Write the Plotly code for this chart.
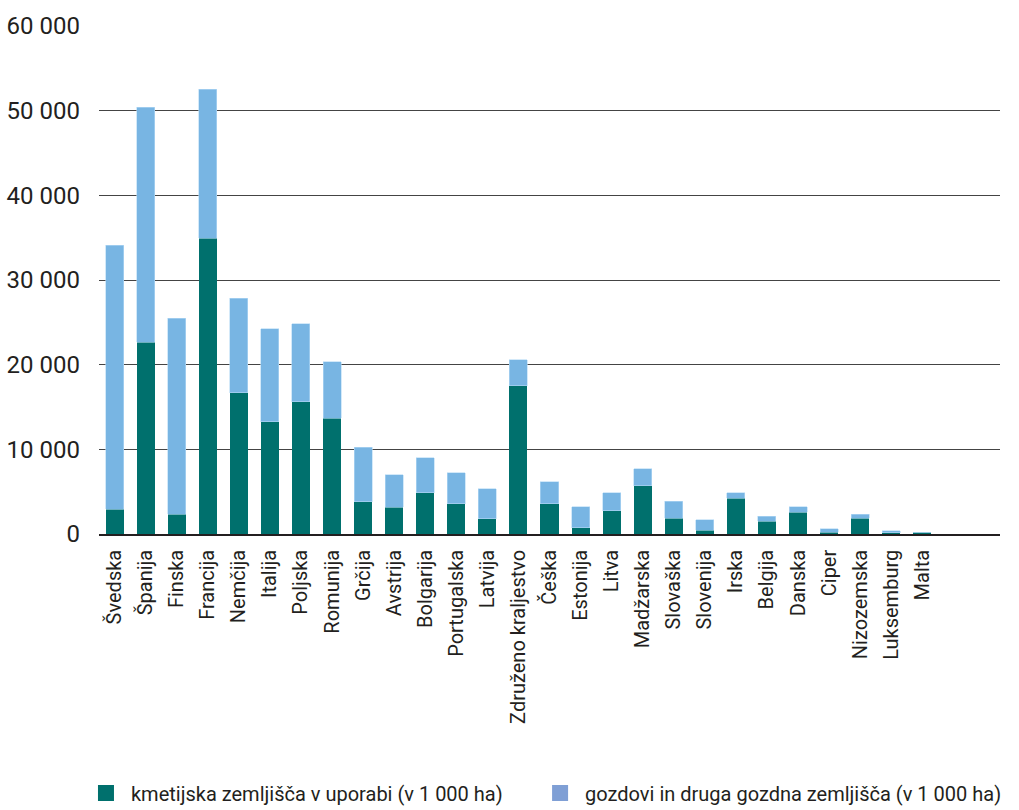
import plotly.graph_objects as go

# Površine po državah članicah (v 1 000 ha)
drzave = [
    "Švedska", "Španija", "Finska", "Francija", "Nemčija", "Italija", "Poljska",
    "Romunija", "Grčija", "Avstrija", "Bolgarija", "Portugalska", "Latvija",
    "Združeno kraljestvo", "Češka", "Estonija", "Litva", "Madžarska", "Slovaška",
    "Slovenija", "Irska", "Belgija", "Danska", "Ciper", "Nizozemska",
    "Luksemburg", "Malta",
]
kmetijska = [
    2950, 22650, 2360, 34940, 16670, 13240, 15600,
    13670, 3820, 3150, 4880, 3580, 1810,
    17530, 3580, 750, 2720, 5720, 1870,
    430, 4230, 1480, 2580, 180, 1870,
    130, 150,
]
gozdovi = [
    31130, 27740, 23130, 17580, 11180, 10990, 9220,
    6660, 6420, 3860, 4100, 3670, 3510,
    3040, 2600, 2440, 2160, 2000, 1970,
    1250, 670, 620, 630, 430, 470,
    280, 0,
]
ime_kmetijska = "kmetijska zemljišča v uporabi (v 1 000 ha)"
ime_gozdovi = "gozdovi in druga gozdna zemljišča (v 1 000 ha)"

y_vrednosti = [0, 10000, 20000, 30000, 40000, 50000, 60000]
y_oznake = ["0", "10 000", "20 000", "30 000", "40 000", "50 000", "60 000"]

PISAVA = "Roboto, Liberation Sans, sans-serif"
TEMNA = "#00706d"
SVETLA = "#78b5e3"
LEGENDA_SVETLA = "#7f9fd5"
BESEDILO = "#231f20"

fig = go.Figure()
fig.add_trace(go.Bar(
    x=drzave, y=kmetijska, name=ime_kmetijska, marker_color=TEMNA,
    marker_line=dict(width=0), showlegend=False,
))
fig.add_trace(go.Bar(
    x=drzave, y=gozdovi, name=ime_gozdovi, marker_color=SVETLA,
    marker_line=dict(width=0.6, color="#b5dbf5"), showlegend=False,
))
# legenda s kvadratnimi oznakami, vsak vnos v svoji legendi
for ime, barva, leg in [(ime_kmetijska, TEMNA, "legend"),
                        (ime_gozdovi, LEGENDA_SVETLA, "legend2")]:
    fig.add_trace(go.Scatter(
        x=[None], y=[None], mode="markers", name=ime, legend=leg,
        marker=dict(symbol="square", size=16, color=barva),
    ))

legenda_slog = dict(
    orientation="h", xanchor="left", y=-0.51, yanchor="middle",
    font=dict(family=PISAVA, size=20, color=BESEDILO),
    itemwidth=40, itemclick=False, bgcolor="rgba(0,0,0,0)",
)

fig.update_layout(
    width=1019, height=810,
    barmode="stack", bargap=0.42,
    paper_bgcolor="white", plot_bgcolor="white",
    margin=dict(l=99, r=19, t=26, b=276, autoexpand=False),
    font=dict(family=PISAVA, color=BESEDILO),
    showlegend=True,
    legend=dict(x=-0.02, **legenda_slog),
    legend2=dict(x=0.484, **legenda_slog),
)
fig.update_xaxes(
    type="category", categoryorder="array", categoryarray=drzave,
    range=[-0.5, 28.5], tickangle=-90, showgrid=False,
    showline=True, linecolor="#231f20", linewidth=1.5,
    ticks="", ticklabelstandoff=6, automargin=False,
    tickfont=dict(family=PISAVA, size=20, color=BESEDILO),
)
fig.update_yaxes(
    range=[0, 60000], tickvals=y_vrednosti, ticktext=y_oznake,
    showgrid=True, gridcolor="#444444", gridwidth=1.2,
    zeroline=False, showline=False, ticks="", ticklabelstandoff=18,
    automargin=False,
    tickfont=dict(family=PISAVA, size=24, color=BESEDILO),
)

fig.write_html("out.html")
